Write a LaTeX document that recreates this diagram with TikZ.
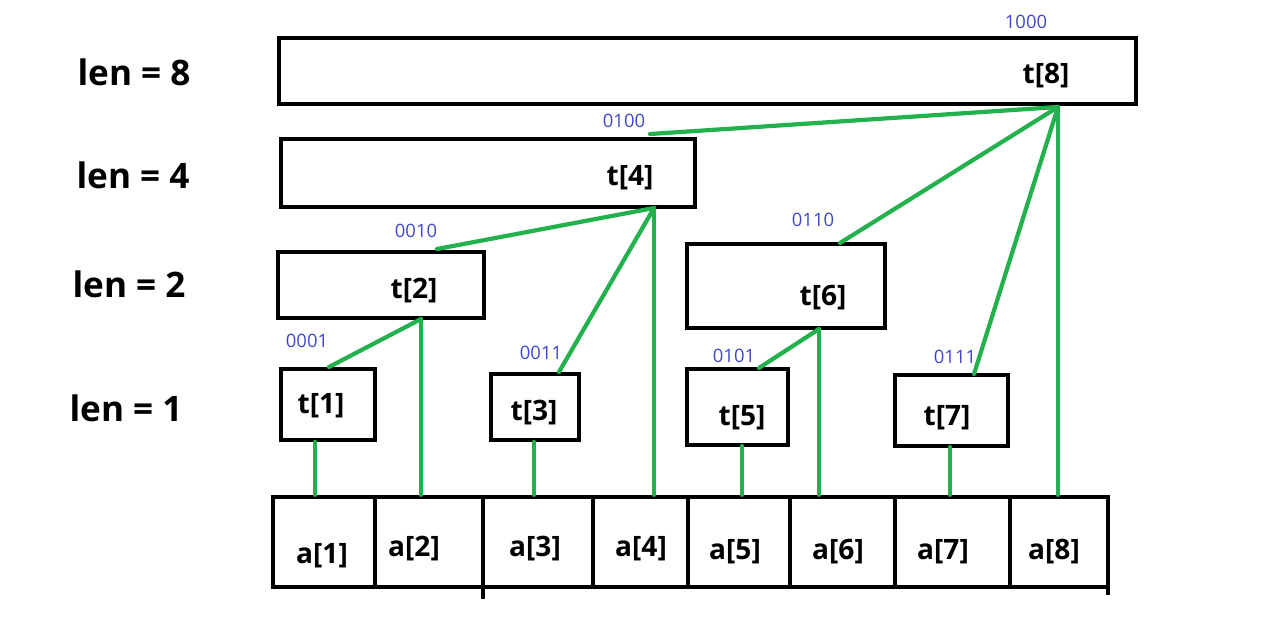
\documentclass[tikz,border=0pt]{standalone}
\usepackage{fontspec}
\setmainfont{Open Sans}
\usepackage{xcolor}
\usepackage{tikz}
\usetikzlibrary{positioning,calc}
\definecolor{linkgreen}{RGB}{34,177,76}
\definecolor{binblue}{RGB}{63,72,204}
\tikzset{
	treebox/.style={draw, line width=2.5pt, inner sep=0, fill=none},
	cell/.style={draw, line width=2.5pt, inner sep=0, minimum height=1.8cm},
	tlabel/.style={font=\fontsize{16}{19}\selectfont\bfseries, inner sep=0},
	lenlabel/.style={font=\fontsize{20}{24}\selectfont\bfseries, inner sep=0},
	binlabel/.style={font=\fontsize{10.5}{12}\selectfont, text=binblue, inner sep=0},
	link/.style={linkgreen, line width=2.4pt, line cap=round}
}
\begin{document}
\begin{tikzpicture}[x=0.02cm, y=-0.02cm]
					\useasboundingbox (0,0) rectangle (1262,637);
					\node[lenlabel] (len8) at (134,72) {len = 8};
					\node[lenlabel] (len4) at (133,175) {len = 4};
					\node[lenlabel] (len2) at (129,284) {len = 2};
					\node[lenlabel] (len1) at (126,408) {len = 1};
					\node[treebox, minimum width=17.14cm, minimum height=1.32cm] (t8) at (707.5,71) {};
					\node[treebox, minimum width=8.28cm, minimum height=1.36cm] (t4) at (488,173) {};
					\node[treebox, minimum width=4.12cm, minimum height=1.32cm] (t2) at (381,285) {};
					\node[treebox, minimum width=3.96cm, minimum height=1.68cm] (t6) at (786,286) {};
					\node[treebox, minimum width=1.88cm, minimum height=1.42cm] (t1) at (328,404.5) {};
					\node[treebox, minimum width=1.76cm, minimum height=1.32cm] (t3) at (535,407) {};
					\node[treebox, minimum width=2.02cm, minimum height=1.52cm] (t5) at (737.5,407) {};
					\node[treebox, minimum width=2.26cm, minimum height=1.42cm] (t7) at (951.5,410.5) {};
					\node[tlabel] (lt8) at (1046,76) {t[8]};
					\node[tlabel] (lt4) at (630,178) {t[4]};
					\node[tlabel] (lt2) at (414,291) {t[2]};
					\node[tlabel] (lt6) at (823,298) {t[6]};
					\node[tlabel] (lt1) at (321,406) {t[1]};
					\node[tlabel] (lt3) at (534,413) {t[3]};
					\node[tlabel] (lt5) at (742,418) {t[5]};
					\node[tlabel] (lt7) at (947,418) {t[7]};
					\node[binlabel] (b8) at (1026,22) {1000};
					\node[binlabel] (b4) at (624,121) {0100};
					\node[binlabel] (b2) at (416,231) {0010};
					\node[binlabel] (b6) at (813,220) {0110};
					\node[binlabel] (b1) at (307,341) {0001};
					\node[binlabel] (b3) at (541,353) {0011};
					\node[binlabel] (b5) at (734,356) {0101};
					\node[binlabel] (b7) at (955,357) {0111};
					\foreach \i/\xl/\xr in {1/273/375, 2/375/483, 3/483/593, 4/593/688, 5/688/790, 6/790/895, 7/895/1010, 8/1010/1108}
						\node[cell, minimum width={(\xr-\xl)*0.02cm}] (a\i) at ({(\xl+\xr)/2},542) {};
					\foreach \i/\lx/\ly in {1/322/556, 2/414/549, 3/535/549, 4/641/549, 5/735/552, 6/838/552, 7/943/552, 8/1054/552}
						\node[tlabel] (la\i) at (\lx,\ly) {a[\i]};
					\draw[line width=2.5pt] ($(a3.south west)+(2,-4)$) -- ++(0,14);
					\draw[line width=2.5pt] ($(a8.south east)+(-2,-4)$) -- ++(0,10);
					\coordinate (t8b) at (1058,107);
					\coordinate (t4t) at (650,134);
					\coordinate (t4b) at (654,208);
					\coordinate (t2t) at (437,249);
					\coordinate (t2b) at (421,319);
					\coordinate (t6t) at (840,243);
					\coordinate (t6b) at (819,329);
					\coordinate (t1t) at (329,367);
					\coordinate (t1b) at (315,442);
					\coordinate (t3t) at (559,372);
					\coordinate (t3b) at (534,442);
					\coordinate (t5t) at (759,368);
					\coordinate (t5b) at (742,446);
					\coordinate (t7t) at (974,374);
					\coordinate (t7b) at (950,447);
					\draw[link] (t8b) -- (t4t);
					\draw[link] (t8b) -- (t6t);
					\draw[link] (t8b) -- (t7t);
					\draw[link] (t8b) -- (t8b |- a8.north);
					\draw[link] (t4b) -- (t2t);
					\draw[link] (t4b) -- (t3t);
					\draw[link] (t4b) -- (t4b |- a4.north);
					\draw[link] (t2b) -- (t1t);
					\draw[link] (t2b) -- (t2b |- a2.north);
					\draw[link] (t6b) -- (t5t);
					\draw[link] (t6b) -- (t6b |- a6.north);
					\draw[link] (t1b) -- (t1b |- a1.north);
					\draw[link] (t3b) -- (t3b |- a3.north);
					\draw[link] (t5b) -- (t5b |- a5.north);
					\draw[link] (t7b) -- (t7b |- a7.north);
				\end{tikzpicture}
\end{document}
